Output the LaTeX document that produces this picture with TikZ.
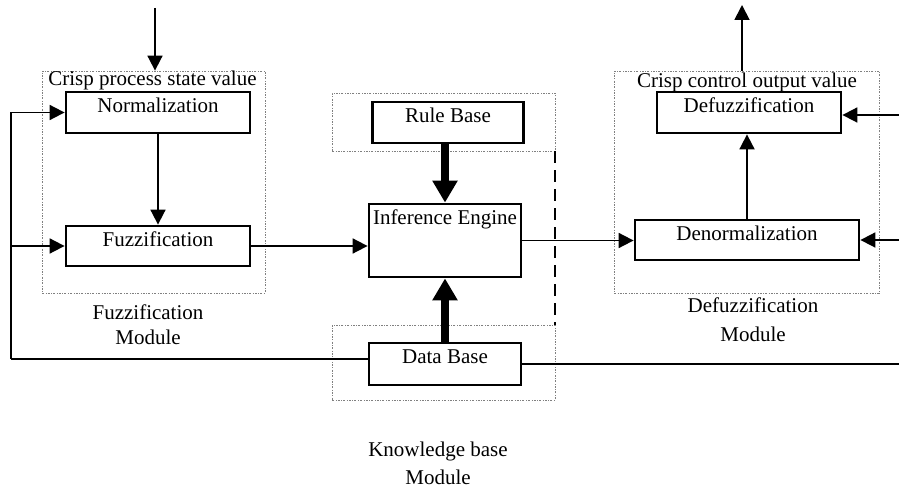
\documentclass[tikz,border=0pt]{standalone}
\usepackage{fontspec}
\setmainfont{Liberation Serif}
\usetikzlibrary{arrows.meta}

\begin{document}
\begin{tikzpicture}[x=1pt,y=1pt,
  box/.style={draw=black,line width=2.8pt,inner xsep=0pt,inner ysep=2pt,text height=19pt,anchor=base},
  module/.style={draw=gray,line width=0.8pt,dash pattern=on 2pt off 1.5pt on 0.6pt off 1.5pt,inner sep=0pt},
  link/.style={line width=1.8pt,-{Triangle[length=15pt,width=15pt]}},
  wire/.style={line width=1.8pt},
  heavy/.style={line width=8pt,-{Triangle[length=22pt,width=24pt]}},
  caption/.style={anchor=base,inner sep=0pt},
  font=\fontsize{21}{25}\selectfont]
\path[use as bounding box] (0,0) rectangle (899,490);

% module frames
\node[module,minimum width=223pt,minimum height=222pt] (fuzzmod) at (153.5,308) {};
\node[module,minimum width=223pt,minimum height=58pt] (rulemod) at (443.5,368) {};
\node[module,minimum width=223pt,minimum height=75pt] (datamod) at (443.5,127.5) {};
\node[module,minimum width=265pt,minimum height=222pt] (defmod) at (746.5,308) {};
\draw[line width=2pt,dash pattern=on 12pt off 7pt] (rulemod.south east) -- (datamod.north east);

% blocks
\node[box,minimum width=184pt,text depth=18pt] (norm) at (158,377) {Normalization};
\node[box,minimum width=184pt,text depth=17pt] (fuzz) at (158,243) {Fuzzification};
\node[box,minimum width=151pt,text depth=18pt] (rule) at (448,367) {Rule Base};
\node[box,minimum width=152pt,text depth=50pt] (infer) at (445,265) {Inference Engine};
\node[box,minimum width=152pt,text depth=19pt] (data) at (445,126) {Data Base};
\node[box,minimum width=184pt,text depth=18pt] (defuzz) at (749,377) {Defuzzification};
\node[box,minimum width=224pt,text depth=17pt] (denorm) at (747,249) {Denormalization};

% texts
\node[caption] (crispin) at (152.5,404) {Crisp process state value};
\node[caption] (crispout) at (747,402) {Crisp control output value};
\node[caption] (fuzzname) at (148,170) {Fuzzification};
\node[caption] (fuzzname2) at (148,145) {Module};
\node[caption] (defname) at (753,177) {Defuzzification};
\node[caption] (defname2) at (753,148) {Module};
\node[caption] (kbname) at (438,34) {Knowledge base};
\node[caption] (kbname2) at (438,6) {Module};

% free ends
\coordinate (input) at (155,482);
\coordinate (output) at (742,485);
\coordinate (fb) at (11,131);
\coordinate (ctl) at (899,375);
\coordinate (ctr) at (899,250);
\coordinate (edge) at (899,127);

% signal flow
\draw[link] (input) -- (input |- fuzzmod.north);
\draw[link] (norm) -- (fuzz);
\draw[link] (fb) |- (norm.west);
\draw[link] (fb |- fuzz.west) -- (fuzz.west);
\draw[wire] (fb) -- (fb -| data.west);
\draw[link] (fuzz.east) -- (fuzz.east -| infer.west);
\draw[link] (infer.east) -- (infer.east -| denorm.west);
\draw[heavy] (rule.south -| infer.north) -- (infer.north);
\draw[heavy] (data.north) -- (infer.south);
\draw[link] (denorm.north) -- (denorm.north |- defuzz.south);
\draw[link] (output |- defmod.north) -- (output);
\draw[link] (ctl) -- (ctl -| defuzz.east);
\draw[link] (ctr) -- (ctr -| denorm.east);
\draw[wire] (data.east) -- (data.east -| edge);
\end{tikzpicture}
\end{document}
